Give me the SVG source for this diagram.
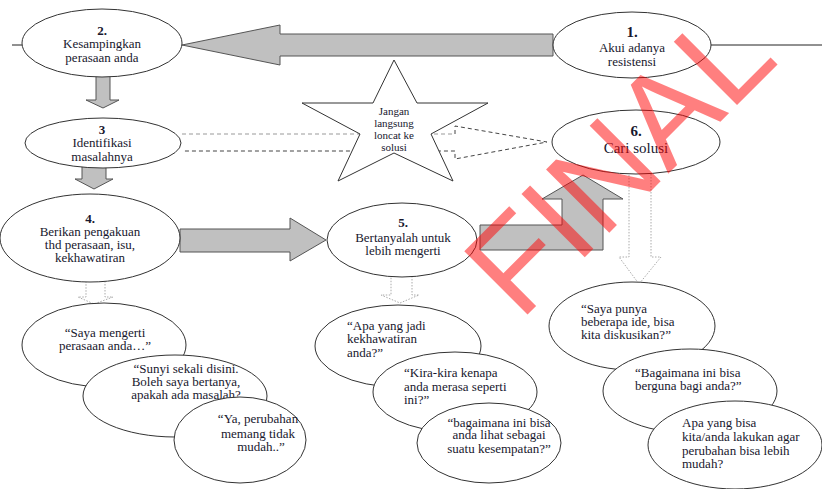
<svg xmlns="http://www.w3.org/2000/svg" width="822" height="489" viewBox="0 0 822 489">
  <style>
    .node { fill: #ffffff; stroke: #333333; stroke-width: 1; }
    .block { fill: #c0c0c0; stroke: #555555; stroke-width: 1; }
    .dotted { fill: #ffffff; stroke: #aaaaaa; stroke-width: 1; stroke-dasharray: 1.5 1.5; }
    .line { fill: none; stroke: #222222; stroke-width: 1; }
    text { font-family: "Liberation Serif", "Times New Roman", serif; font-size: 13px; fill: #18182e; }
    .c { text-anchor: middle; }
    .num { font-weight: bold; }
    .big { font-size: 15px; }
    .small { font-size: 11px; }
    .mark { font-family: "Liberation Sans", Arial, sans-serif; font-size: 130px; fill: #ff0000; fill-opacity: 0.5; }
  </style>

  <!-- connectors -->
  <g id="connectors">
    <line class="line" x1="12" y1="45" x2="22" y2="45"/>
    <line class="line" x1="711" y1="45" x2="822" y2="45"/>
    <!-- 1 -> 2 -->
    <polygon class="block" points="182,45 280,25 280,34 553,34 553,56 280,56 280,65"/>
    <!-- 2 -> 3 -->
    <polygon class="block" points="96,76 110,76 110,100 119,100 103,108 86,100 96,100"/>
    <!-- 3 -> 4 -->
    <polygon class="block" points="82,166 106,166 106,179 113,179 94,189 75,179 82,179"/>
    <!-- 4 -> 5 -->
    <polygon class="block" points="180,229 290,229 290,218 326,240 290,261 290,252 180,252"/>
    <!-- 5 -> 6 -->
    <polygon class="block" points="480,225 562,225 562,199 542,199 583,175 623,199 603,199 603,250 480,250"/>
    <!-- 3 -> 6, dashed -->
    <path d="M182,134 H455" fill="none" stroke="#999999" stroke-dasharray="4 3"/>
    <path d="M455,134 V126 L547,142 L455,159 V151 H182" fill="none" stroke="#444444" stroke-dasharray="4 3"/>
    <!-- dotted arrows to the example bubbles -->
    <polygon class="dotted" points="86,279 105,279 105,297 113,297 94,304 78,297 86,297"/>
    <polygon class="dotted" points="391,276 412,276 412,295 419,295 400,303 381,295 391,295"/>
    <polygon class="dotted" points="629,172 651,172 651,257 661,257 639,284 619,257 629,257"/>
  </g>

  <g id="star">
    <polygon class="node" points="394,60 417,103 488,103 431,134 453,181 394,153 338,181 360,134 302,103 373,103"/>
    <text class="c small" x="394" y="115">Jangan</text>
    <text class="c small" x="394" y="127">langsung</text>
    <text class="c small" x="394" y="139">loncat ke</text>
    <text class="c small" x="394" y="151">solusi</text>
  </g>

  <g id="node1">
    <ellipse class="node" cx="632" cy="45" rx="79" ry="33"/>
    <text class="c big num" x="632" y="37">1.</text>
    <text class="c" x="632" y="52">Akui adanya</text>
    <text class="c" x="632" y="66">resistensi</text>
  </g>

  <g id="node2">
    <ellipse class="node" cx="102" cy="43" rx="80" ry="34"/>
    <text class="c num" x="102" y="35">2.</text>
    <text class="c" x="102" y="48">Kesampingkan</text>
    <text class="c" x="102" y="62">perasaan anda</text>
  </g>

  <g id="node3">
    <ellipse class="node" cx="103" cy="143" rx="78" ry="25"/>
    <text class="c num" x="102" y="134">3</text>
    <text class="c" x="102" y="147">Identifikasi</text>
    <text class="c" x="102" y="161">masalahnya</text>
  </g>

  <g id="node4">
    <ellipse class="node" cx="90" cy="238" rx="90" ry="44"/>
    <text class="c num" x="90" y="223">4.</text>
    <text class="c" x="90" y="236">Berikan pengakuan</text>
    <text class="c" x="90" y="249">thd perasaan, isu,</text>
    <text class="c" x="90" y="262">kekhawatiran</text>
  </g>

  <g id="node5">
    <ellipse class="node" cx="402" cy="240" rx="75" ry="37"/>
    <text class="c num" x="403" y="227">5.</text>
    <text class="c" x="403" y="242">Bertanyalah untuk</text>
    <text class="c" x="403" y="255">lebih mengerti</text>
  </g>

  <g id="node6">
    <ellipse class="node" cx="636" cy="142" rx="84" ry="32"/>
    <text class="c big num" x="636" y="136">6.</text>
    <text class="c big" x="636" y="153">Cari solusi</text>
  </g>

  <!-- examples for step 4 -->
  <g id="ex4a">
    <ellipse class="node" cx="104" cy="345" rx="82" ry="42"/>
    <text class="c" x="105" y="337">“Saya mengerti</text>
    <text class="c" x="105" y="350">perasaan anda…”</text>
  </g>
  <g id="ex4b">
    <ellipse class="node" cx="175" cy="396" rx="92" ry="41"/>
    <text class="c" x="186" y="373">“Sunyi sekali disini.</text>
    <text class="c" x="186" y="386">Boleh saya bertanya,</text>
    <text class="c" x="186" y="399">apakah ada masalah?</text>
  </g>
  <g id="ex4c">
    <ellipse class="node" cx="240" cy="440" rx="66" ry="43"/>
    <text class="c" x="258" y="423">“Ya, perubahan</text>
    <text class="c" x="258" y="438">memang tidak</text>
    <text class="c" x="261" y="451">mudah..”</text>
  </g>

  <!-- examples for step 5 -->
  <g id="ex5a">
    <ellipse class="node" cx="398" cy="346" rx="83" ry="41"/>
    <text x="347" y="330">“Apa yang jadi</text>
    <text x="347" y="343">kekhawatiran</text>
    <text x="347" y="357">anda?”</text>
  </g>
  <g id="ex5b">
    <ellipse class="node" cx="455" cy="392" rx="82" ry="40"/>
    <text x="404" y="377">“Kira-kira kenapa</text>
    <text x="404" y="391">anda merasa seperti</text>
    <text x="404" y="404">ini?”</text>
  </g>
  <g id="ex5c">
    <ellipse class="node" cx="489" cy="443" rx="72" ry="40"/>
    <text class="c" x="499" y="427">“bagaimana ini bisa</text>
    <text class="c" x="499" y="439">anda lihat sebagai</text>
    <text class="c" x="499" y="453">suatu kesempatan?”</text>
  </g>

  <!-- examples for step 6 -->
  <g id="ex6a">
    <ellipse class="node" cx="632" cy="326" rx="83" ry="44"/>
    <text x="581" y="313">“Saya punya</text>
    <text x="581" y="326">beberapa ide, bisa</text>
    <text x="581" y="339">kita diskusikan?”</text>
  </g>
  <g id="ex6b">
    <ellipse class="node" cx="690" cy="391" rx="87" ry="42"/>
    <text x="635" y="377">“Bagaimana ini bisa</text>
    <text x="635" y="390">berguna bagi anda?”</text>
  </g>
  <g id="ex6c">
    <ellipse class="node" cx="735" cy="445" rx="87" ry="44"/>
    <text x="682" y="427">Apa yang bisa</text>
    <text x="682" y="441">kita/anda lakukan agar</text>
    <text x="682" y="455">perubahan bisa lebih</text>
    <text x="682" y="468">mudah?</text>
  </g>

  <!-- draft stamp -->
  <text class="mark" transform="translate(520,322) rotate(-45)">FINAL</text>
</svg>
